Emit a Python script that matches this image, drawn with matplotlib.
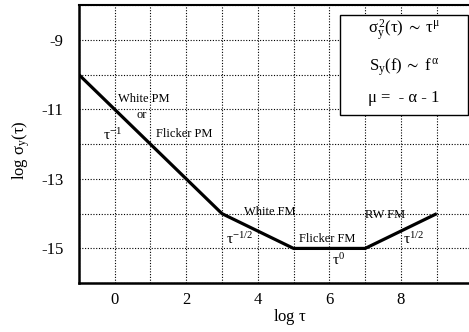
import matplotlib
matplotlib.use("Agg")
import matplotlib.pyplot as plt
from matplotlib.patches import Rectangle

plt.rcParams['font.family'] = ['Liberation Serif', 'DejaVu Serif']
plt.rcParams['mathtext.fontset'] = 'stix'
plt.rcParams['axes.unicode_minus'] = False

# piecewise sigma-tau plot
log_tau = [-1, 3, 5, 7, 9]
log_sigma = [-10, -14, -15, -15, -14]

x_ticks = [0, 2, 4, 6, 8]
y_ticks = [-15, -13, -11, -9]

# noise regions: (text, x, y, size)
notes = [
    ("White PM", 0.1, -10.7, 9),
    ("or", 0.6, -11.15, 9),
    ("Flicker PM", 1.17, -11.72, 9),
    (r"$\mathregular{\tau^{-1}}$", -0.32, -11.75, 11),
    ("White FM", 3.62, -13.95, 9),
    (r"$\mathregular{\tau^{-1/2}}$", 3.12, -14.74, 11),
    ("Flicker FM", 5.15, -14.72, 9),
    (r"$\mathregular{\tau^{0}}$", 6.08, -15.33, 11),
    ("RW FM", 7.0, -14.05, 9),
    (r"$\mathregular{\tau^{1/2}}$", 8.06, -14.72, 11),
]

fig = plt.figure(figsize=(4.69, 3.32), dpi=100)
ax = fig.add_axes([0.168, 0.147, 0.832, 0.838])

ax.plot(log_tau, log_sigma, color='black', lw=2.3, solid_capstyle='butt', zorder=3)

ax.set_xlim(-1, 9.9)
ax.set_ylim(-16, -8)
ax.set_xticks(x_ticks)
ax.set_yticks(y_ticks)
ax.set_xticks(range(-1, 10), minor=True)
ax.set_yticks(range(-16, -7), minor=True)
ax.tick_params(which='both', length=0, labelsize=12)
ax.tick_params(axis='y', pad=11)
ax.tick_params(axis='x', pad=6)
ax.grid(which='both', color='black', linestyle=(0, (1, 1.5)), lw=0.8)

ax.spines['right'].set_visible(False)
ax.spines['left'].set_linewidth(1.8)
ax.spines['bottom'].set_linewidth(1.8)
ax.spines['top'].set_linewidth(1.5)

ax.set_xlabel(r"log $\mathregular{\tau}$", fontsize=12)
ax.xaxis.set_label_coords(0.541, -0.085)
ax.set_ylabel(r"log $\mathregular{\sigma_y(\tau)}$", fontsize=12)
ax.yaxis.set_label_coords(-0.12, 0.48)

for txt, x, y, s in notes:
    ax.text(x, y, txt, fontsize=s, ha='left', va='center', zorder=4)

ax.add_patch(Rectangle((0.669, 0.605), 0.328, 0.359, transform=ax.transAxes,
                       facecolor='white', edgecolor='black', lw=1.0, zorder=5))
ax.text(0.833, 0.91, r"$\mathregular{\sigma_y^{\,2}(\tau)\;\sim\;\tau^{\mu}}$",
        transform=ax.transAxes, ha='center', va='center', fontsize=12, zorder=6)
ax.text(0.833, 0.775, r"$\mathregular{S_y(f)\;\sim\;f^{\,\alpha}}$",
        transform=ax.transAxes, ha='center', va='center', fontsize=12, zorder=6)
ax.text(0.833, 0.665, "μ =  - α - 1",
        transform=ax.transAxes, ha='center', va='center', fontsize=12, zorder=6)

fig.savefig("out.png", dpi=100)
